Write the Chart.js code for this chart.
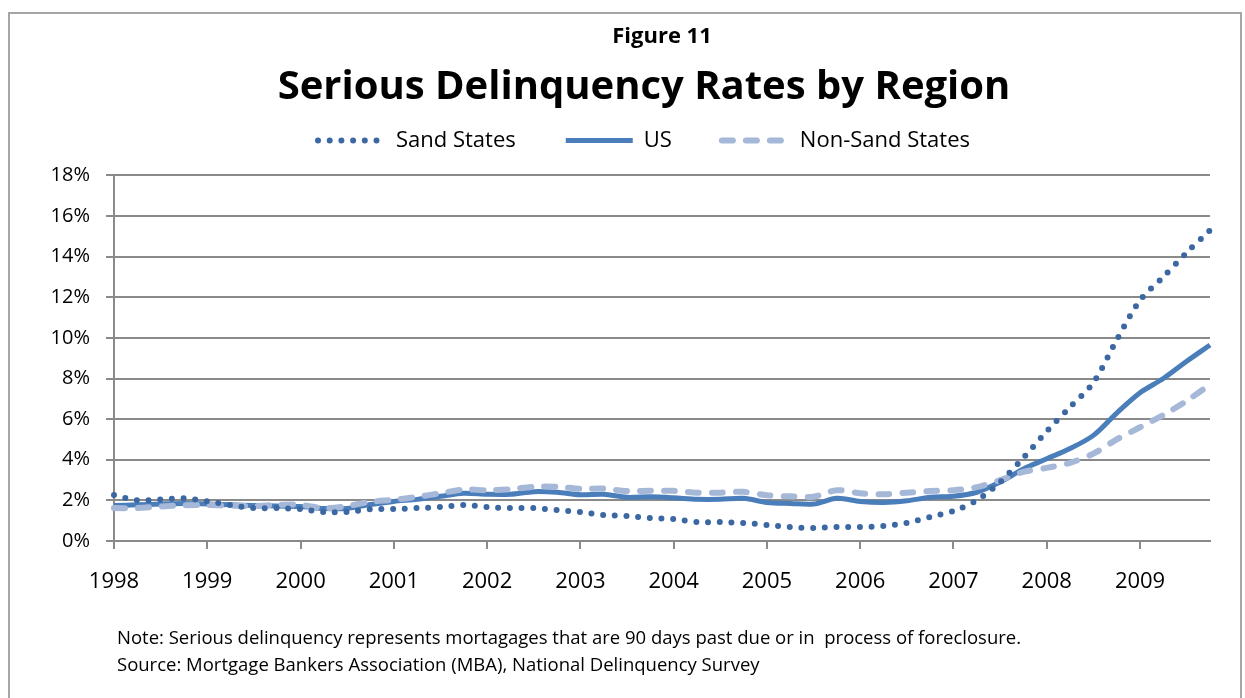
<!DOCTYPE html>
<html>
<head>
<meta charset="utf-8">
<script src="https://cdn.jsdelivr.net/npm/chart.js@4"></script>
<style>
  body { margin: 0; background: #fff; font-family: "Open Sans", sans-serif; }
  #wrap { position: relative; width: 1245px; height: 698px; overflow: hidden; }
  #frame { position: absolute; left: 8px; top: 12px; width: 1230px; height: 700px; border: 2px solid #a6a6a6; }
  canvas { position: absolute; left: 0; top: 0; }
  .note { position: absolute; left: 117px; font-size: 18.5px; white-space: pre; color: #000; }
</style>
</head>
<body>
<div id="wrap">
  <div id="frame"></div>
  <canvas id="wykres" width="1245" height="698"></canvas>
  <div class="note" style="top:624px">Note: Serious delinquency represents mortagages that are 90 days past due or in  process of foreclosure.</div>
  <div class="note" style="top:651px">Source: Mortgage Bankers Association (MBA), National Delinquency Survey</div>
</div>
<script>
// lata na osi X (co 4 kwartaly)
const years = ['1998', '1999', '2000', '2001', '2002', '2003', '2004', '2005', '2006', '2007', '2008', '2009'];
const quarters = years.flatMap(y => ['Q1', 'Q2', 'Q3', 'Q4'].map(q => y + ' ' + q));

// w %
const sandStates = [2.26, 2.0, 2.05, 2.1, 1.95, 1.77, 1.62, 1.62, 1.57, 1.43, 1.43, 1.57,
  1.57, 1.62, 1.67, 1.77, 1.67, 1.62, 1.62, 1.52, 1.43, 1.28, 1.23, 1.13,
  1.08, 0.93, 0.93, 0.89, 0.79, 0.69, 0.64, 0.69, 0.69, 0.74, 0.89, 1.18,
  1.48, 2.0, 2.9, 4.1, 5.4, 6.6, 7.8, 9.9, 11.85, 13.0, 14.2, 15.3];
const us = [1.75, 1.78, 1.82, 1.85, 1.82, 1.78, 1.75, 1.72, 1.7, 1.6, 1.6, 1.8,
  1.95, 2.05, 2.2, 2.35, 2.3, 2.3, 2.43, 2.4, 2.28, 2.3, 2.15, 2.18,
  2.13, 2.05, 2.05, 2.1, 1.9, 1.85, 1.82, 2.1, 1.95, 1.9, 1.98, 2.15,
  2.2, 2.4, 2.9, 3.55, 4.05, 4.55, 5.2, 6.3, 7.3, 8.0, 8.85, 9.65];
const nonSandStates = [1.62, 1.62, 1.7, 1.76, 1.77, 1.74, 1.72, 1.78, 1.78, 1.62, 1.72, 1.93,
  2.03, 2.17, 2.35, 2.53, 2.5, 2.55, 2.67, 2.67, 2.57, 2.58, 2.46, 2.47,
  2.47, 2.38, 2.38, 2.42, 2.25, 2.2, 2.18, 2.5, 2.35, 2.3, 2.38, 2.46,
  2.5, 2.65, 3.0, 3.4, 3.6, 3.85, 4.3, 5.0, 5.6, 6.2, 6.9, 7.7];

const gridGray = '#8a8a8a';

Chart.defaults.font.family = '"Open Sans", sans-serif';
Chart.defaults.color = '#000';

// puste pudelka: odstep pod legenda i margines z prawej
function emptyBox(position, size) {
  return {
    position: position, weight: 500, fullSize: false, options: {},
    left: 0, top: 0, right: 0, bottom: 0, width: 0, height: 0,
    isHorizontal() { return position === 'top' || position === 'bottom'; },
    update(maxWidth, maxHeight) {
      if (this.isHorizontal()) { this.width = maxWidth; this.height = size; }
      else { this.width = size; this.height = maxHeight; }
    },
    draw() {}
  };
}
const spacer = {
  id: 'spacer',
  beforeInit(chart) {
    Chart.layouts.addBox(chart, emptyBox('top', 14));
    Chart.layouts.addBox(chart, emptyBox('right', 35));
  }
};

new Chart(document.getElementById('wykres'), {
  type: 'line',
  data: {
    labels: quarters,
    datasets: [{
      label: 'Sand States',
      data: sandStates,
      borderColor: '#3b67a3',
      backgroundColor: '#3b67a3',
      borderWidth: 6,
      borderDash: [0, 11.7],
      borderCapStyle: 'round',
      order: 0
    }, {
      label: 'US',
      data: us,
      borderColor: '#4a7ebb',
      backgroundColor: '#4a7ebb',
      borderWidth: 5,
      borderDash: [],
      borderCapStyle: 'butt',
      order: 2
    }, {
      label: 'Non-Sand States',
      data: nonSandStates,
      borderColor: '#a6b8d8',
      backgroundColor: '#a6b8d8',
      borderWidth: 6,
      borderDash: [11, 13],
      borderCapStyle: 'round',
      order: 1
    }]
  },
  options: {
    responsive: false,
    animation: false,
    layout: { padding: { left: 43, right: 0, top: 0, bottom: 97 } },
    elements: { point: { radius: 0 }, line: { tension: 0.3 } },
    plugins: {
      tooltip: { enabled: false },
      title: {
        display: true,
        text: 'Figure 11',
        fullSize: false,
        font: { size: 22, weight: 'bold' },
        padding: { top: 24, bottom: 0 }
      },
      subtitle: {
        display: true,
        text: 'Serious Delinquency Rates by Region',
        color: '#000',
        font: { size: 40, weight: 'bold' },
        padding: { top: 13, bottom: -32 }
      },
      legend: {
        labels: {
          usePointStyle: true,
          pointStyle: 'line',
          pointStyleWidth: 67,
          padding: 50,
          font: { size: 22 },
          sort: (a, b) => a.datasetIndex - b.datasetIndex,
          generateLabels: chart => {
            const items = Chart.defaults.plugins.legend.labels.generateLabels(chart);
            items.forEach(it => {
              const ds = chart.data.datasets[it.datasetIndex];
              it.lineDash = ds.borderDash;
              it.lineCap = ds.borderCapStyle;
              it.lineWidth = ds.borderWidth;
              it.strokeStyle = ds.borderColor;
            });
            return items;
          }
        }
      }
    },
    scales: {
      x: {
        grid: {
          drawOnChartArea: false,
          tickLength: 8,
          lineWidth: 2,
          color: ctx => ctx.index % 4 === 0 ? gridGray : 'rgba(0,0,0,0)'
        },
        border: { color: gridGray, width: 2 },
        ticks: {
          autoSkip: false,
          maxRotation: 0,
          padding: 20,
          font: { size: 22 },
          callback: (v, i) => i % 4 === 0 ? years[i / 4] : ''
        },
        afterFit: s => { s.height = 60; }
      },
      y: {
        min: 0,
        max: 18,
        grid: { color: gridGray, lineWidth: 2, tickLength: 8 },
        border: { color: gridGray, width: 2 },
        ticks: {
          stepSize: 2,
          padding: 16,
          font: { size: 20 },
          callback: v => v + '%'
        },
        afterFit: s => { s.width = 71; }
      }
    }
  },
  plugins: [spacer]
});
</script>
</body>
</html>
